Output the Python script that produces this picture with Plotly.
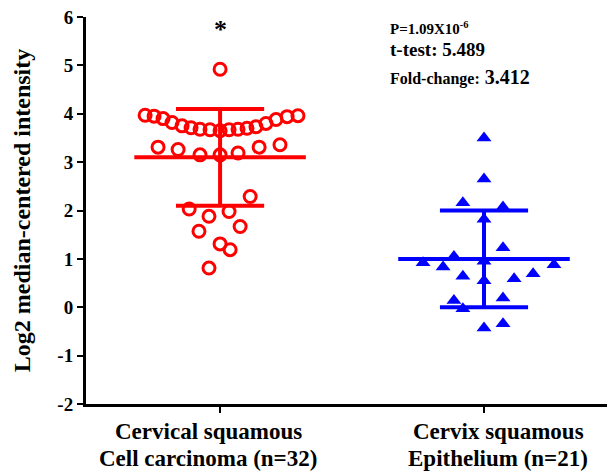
import plotly.graph_objects as go

category_line1 = ["Cervical squamous", "Cervix squamous"]
category_line2 = ["Cell carcinoma (n=32)", "Epithelium (n=21)"]

# Cervical squamous cell carcinoma: horizontal jitter offset and value
scc_offset = [-0.284, -0.25, -0.216, -0.182, -0.144, -0.11, -0.076, -0.038, 0.0, 0.034,
              0.068, 0.102, 0.136, 0.174, 0.212, 0.254, 0.295,
              -0.235, -0.159, -0.076, 0.0, 0.068, 0.148, 0.227,
              0.0,
              0.114, -0.117, -0.042, 0.034, -0.08, 0.076, 0.0, 0.038, -0.042]
scc_values = [3.97, 3.95, 3.90, 3.82, 3.75, 3.71, 3.68, 3.67, 3.65, 3.67,
              3.68, 3.70, 3.73, 3.80, 3.88, 3.94, 3.96,
              3.31, 3.26, 3.15, 3.15, 3.19, 3.31, 3.36,
              4.92,
              2.29, 2.03, 1.88, 1.98, 1.57, 1.67, 1.31, 1.19, 0.81]

# Cervix squamous epithelium
epi_offset = [0.0, 0.0, -0.08, 0.072, 0.0, 0.072, -0.231, -0.114, -0.155, 0.0,
              0.265, -0.08, 0.114, 0.186, 0.0, -0.114, 0.072, -0.08, 0.0, 0.072]
epi_values = [3.50, 2.65, 2.16, 2.07, 1.82, 1.23, 0.92, 1.05, 0.83, 0.95,
              0.88, 0.64, 0.59, 0.69, 0.55, 0.14, 0.19, -0.03, -0.43, -0.34]

group_mean = [3.1, 1.0]
group_sd = [1.0, 1.0]
group_colors = ["#ff0000", "#0000ff"]

annot_p = "P=1.09X10<sup>-6</sup>"
annot_t = "t-test: 5.489"
annot_fc_label = "Fold-change:"
annot_fc_value = "3.412"

fig = go.Figure()

# mean / SD lines
mean_half = 0.325
cap_half = 0.167
for i, (m, s, c) in enumerate(zip(group_mean, group_sd, group_colors)):
    xs = [i - mean_half, i + mean_half, None, i, i, None,
          i - cap_half, i + cap_half, None, i - cap_half, i + cap_half]
    ys = [m, m, None, m - s, m + s, None, m + s, m + s, None, m - s, m - s]
    fig.add_trace(go.Scatter(x=xs, y=ys, mode="lines",
                             line=dict(color=c, width=4), hoverinfo="skip",
                             showlegend=False))

fig.add_trace(go.Scatter(
    x=[0 + o for o in scc_offset], y=scc_values, mode="markers",
    marker=dict(symbol="circle-open", size=12, color="#ff0000",
                line=dict(width=3, color="#ff0000")),
    showlegend=False))

fig.add_trace(go.Scatter(
    x=[1 + o for o in epi_offset], y=epi_values, mode="markers",
    marker=dict(symbol="triangle-up", size=13, color="#0000ff",
                line=dict(width=0)),
    showlegend=False))

serif = "Liberation Serif"

fig.add_annotation(x=0, y=5.74, text="<b>*</b>", showarrow=False,
                   font=dict(family=serif, size=26, color="black"),
                   xref="x", yref="y")
fig.add_annotation(x=0.636, y=5.77, text="<b>" + annot_p + "</b>", showarrow=False,
                   xanchor="left", font=dict(family=serif, size=15, color="black"))
fig.add_annotation(x=0.636, y=5.33, text="<b>" + annot_t + "</b>", showarrow=False,
                   xanchor="left", font=dict(family=serif, size=19, color="black"))
fig.add_annotation(x=0.636, y=4.77,
                   text="<b><span style='font-size:16px'>" + annot_fc_label + "</span> " + annot_fc_value + "</b>",
                   showarrow=False, xanchor="left",
                   font=dict(family=serif, size=20, color="black"))

# category labels (two lines each, placed under the ticks)
label_shift = [-0.045, 0.053]
for i in range(2):
    fig.add_annotation(x=i + label_shift[i], y=-0.072, xref="x", yref="paper",
                       text="<b>" + category_line1[i] + "</b>", showarrow=False,
                       yanchor="middle", font=dict(family=serif, size=23, color="black"))
    fig.add_annotation(x=i + label_shift[i], y=-0.14, xref="x", yref="paper",
                       text="<b>" + category_line2[i] + "</b>", showarrow=False,
                       yanchor="middle", font=dict(family=serif, size=23, color="black"))

fig.update_layout(
    width=607, height=472,
    margin=dict(l=86, r=0, t=17, b=68),
    plot_bgcolor="white", paper_bgcolor="white",
    font=dict(family=serif, color="black"),
    xaxis=dict(range=[-0.508, 1.466], tickvals=[0, 1], showticklabels=False,
               showline=True, linecolor="black", linewidth=3, ticks="outside",
               ticklen=6, tickwidth=2, tickcolor="black", showgrid=False, zeroline=False,
               automargin=False),
    yaxis=dict(range=[-2, 6], tickvals=list(range(-2, 7)),
               ticktext=["<b>%d</b>" % v for v in range(-2, 7)],
               showline=True, linecolor="black", linewidth=3, ticks="outside",
               ticklen=6, tickwidth=2, tickcolor="black", showgrid=False, zeroline=False,
               automargin=False,
               tickfont=dict(family=serif, size=19, color="black"),
               title=dict(text="<b>Log2 median-centered intensity</b>",
                          font=dict(family=serif, size=24, color="black"), standoff=20)),
)

fig.write_html("out.html", config={"displayModeBar": False},
               post_script="document.body.style.margin='0';document.body.style.overflow='hidden';")
